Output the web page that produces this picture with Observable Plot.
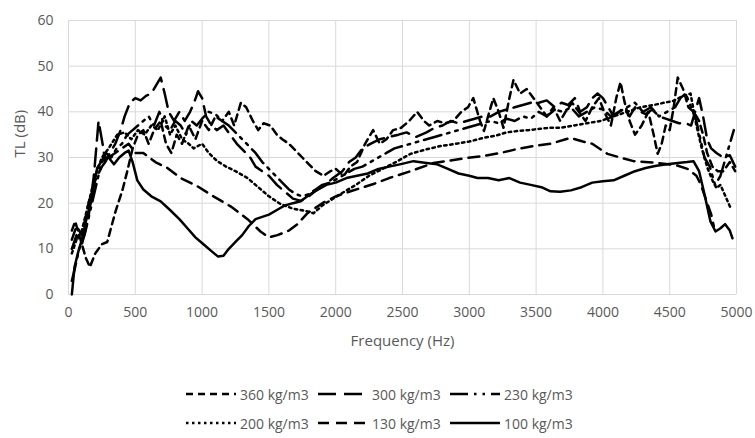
<!DOCTYPE html>
<html>
<head>
<meta charset="utf-8">
<script src="https://cdn.jsdelivr.net/npm/d3@7"></script>
<script src="https://cdn.jsdelivr.net/npm/@observablehq/plot@0.6"></script>
<style>
  html, body { margin: 0; padding: 0; background: #fff; }
  #wrap { position: relative; width: 755px; height: 438px; font-family: "Open Sans", sans-serif; }
  #legend { position: absolute; left: 0; top: 0; width: 755px; height: 438px; pointer-events: none; }
  .item { position: absolute; display: flex; align-items: center; height: 20px; font-size: 14px; color: #595959; white-space: nowrap; }
  .item svg { margin-right: 4px; }
</style>
</head>
<body>
<div id="wrap"><div id="chart"></div><div id="legend"></div></div>
<script>
// Tick values
const xTicks = [0, 500, 1000, 1500, 2000, 2500, 3000, 3500, 4000, 4500, 5000];
const yTicks = [0, 10, 20, 30, 40, 50, 60];
const xTitle = "Frequency (Hz)";
const yTitle = "TL (dB)";

// Series names
const seriesNames = ["360 kg/m3", "300 kg/m3", "230 kg/m3", "200 kg/m3", "130 kg/m3", "100 kg/m3"];

// [frequency Hz, TL dB]
const s360 = [[25,14],[50,16],[90,12],[130,8],[160,6],[200,9],[250,11],[290,11.5],[350,18],[405,23],[440,27],[480,32],[520,35],[560,36],[600,33],[640,36],[690,38],[730,33],[770,31],[810,35],[850,33],[900,37],[950,34],[1000,38],[1050,36],[1100,39],[1150,38],[1200,40],[1240,37],[1290,42],[1330,41],[1380,38],[1420,36],[1460,37.5],[1510,37],[1560,35],[1600,34],[1650,33],[1700,31.5],[1750,30],[1800,28.5],[1850,27],[1910,26],[1960,27],[2000,27.5],[2060,26],[2110,28],[2160,29],[2220,33],[2280,36],[2330,33],[2380,34],[2430,36],[2490,36.5],[2550,38],[2610,40],[2660,38],[2700,37],[2760,38],[2820,37.5],[2880,38],[2940,40],[2990,41],[3030,43],[3080,38],[3110,35.8],[3150,40],[3180,43],[3220,40],[3256,36.5],[3300,43],[3331,47],[3380,44],[3430,45],[3481,43],[3530,41],[3580,39],[3630,41],[3680,38],[3720,40],[3770,42],[3820,40],[3870,38],[3920,41],[3970,43],[4010,40],[4060,37],[4100,43],[4132,46.5],[4160,42.4],[4200,38],[4240,35],[4290,37],[4340,40],[4380,35],[4410,30.8],[4440,33],[4470,37],[4500,36],[4530,41],[4560,47.5],[4600,45],[4640,41],[4680,40],[4720,38],[4750,35],[4780,31],[4820,28],[4860,27],[4900,27],[4950,29],[4990,27]];

const s300 = [[25,10],[60,13],[100,11],[150,17],[190,26],[225,38],[255,33],[275,29],[310,31],[350,33],[390,36],[420,39],[460,42],[500,43],[540,42.5],[580,43.5],[620,44],[660,46],[690,47.5],[720,44],[750,40],[790,38],[830,40],[870,38],[910,40],[940,42],[970,44.5],[1000,43],[1030,39],[1070,37],[1110,36],[1160,37],[1210,35],[1260,33],[1310,31.5],[1360,30],[1400,28],[1450,27],[1500,26],[1560,24],[1620,22.5],[1680,21],[1740,20.5],[1800,21.5],[1860,23],[1920,24],[1980,25.5],[2050,27],[2100,29],[2150,30],[2200,32],[2260,33],[2330,34],[2400,34.5],[2470,35],[2530,35.5],[2600,34.5],[2680,35.5],[2740,36.5],[2800,37],[2860,38],[2920,37.5],[2980,38],[3040,38.5],[3100,39],[3160,39],[3220,40],[3280,40.5],[3340,41],[3400,41.5],[3460,42],[3520,42],[3580,42.5],[3640,41],[3690,42],[3740,41.5],[3790,43],[3830,40],[3880,41],[3920,43],[3960,44],[4000,43],[4040,41],[4080,39],[4120,40],[4160,41],[4200,39],[4240,41],[4280,40],[4320,39.5],[4370,40.5],[4420,39],[4470,38.5],[4520,38],[4570,37.5],[4620,37.5],[4660,37],[4690,40],[4720,43],[4750,39],[4780,34],[4810,32],[4850,31],[4900,30],[4950,30.5],[4990,28]];

const s230 = [[25,3],[50,6],[80,10],[120,13],[160,18],[200,23],[240,28],[280,31],[320,30],[360,32],[400,33],[440,35],[480,36],[520,37],[560,38],[600,39],[640,37],[680,40],[720,37],[760,36],[800,38],[840,37],[880,35],[920,38],[960,37],[1000,38.5],[1050,40],[1100,39.5],[1150,38],[1200,37],[1250,35.5],[1300,34],[1350,32.5],[1400,31],[1450,29],[1500,27.5],[1550,26],[1600,24.5],[1650,23],[1700,22],[1750,21.5],[1800,22],[1850,23],[1900,24],[1960,24.5],[2020,25.5],[2080,26.5],[2140,27.5],[2200,28],[2260,29],[2320,30],[2380,31],[2440,32],[2500,32.5],[2560,33],[2620,33.5],[2680,34],[2740,34.5],[2800,35],[2860,35.5],[2920,36],[2980,36.5],[3040,37],[3100,37.5],[3160,38],[3220,37.5],[3280,38.5],[3340,38],[3400,39],[3460,38.5],[3520,40],[3580,39],[3640,40.5],[3700,40],[3760,41],[3820,39],[3880,40],[3940,41],[4000,40.5],[4060,39],[4120,40],[4180,41],[4240,42],[4300,40],[4360,41],[4420,39],[4480,40],[4540,41],[4580,43],[4620,44],[4660,41],[4700,38],[4730,34],[4760,30],[4800,28],[4840,24],[4880,26],[4920,30],[4950,33],[4980,36]];

const s200 = [[25,9],[60,12],[100,14],[150,20],[200,26],[250,30],[300,32],[365,35],[420,35.5],[470,34],[520,36],[570,35],[620,37],[670,36],[720,39],[760,35],[800,37],[850,34],[900,33],[936,32],[1000,33],[1050,31],[1113,29.2],[1180,28],[1250,27],[1340,25.5],[1420,23.5],[1500,21.5],[1587,19.8],[1680,18.8],[1789,18.2],[1834,17.8],[1900,19.5],[2036,22],[2150,24],[2250,26],[2350,27.5],[2450,29],[2560,30.8],[2680,31.8],[2784,32.5],[2900,33],[3000,33.5],[3106,34.3],[3200,34.8],[3280,35.5],[3361,35.8],[3450,36],[3530,36.3],[3608,36.5],[3683,36.5],[3780,37],[3880,37.5],[3982,38],[4080,39],[4180,40],[4281,41],[4380,41.5],[4460,42],[4528,42.4],[4600,43.5],[4656,44],[4700,37],[4740,32],[4783,27.7],[4820,25],[4850,23.3],[4880,24],[4910,22],[4955,19]];

const s130 = [[25,12],[60,15],[100,13],[150,20],[200,25],[250,28],[300,30],[350,31],[400,32],[450,33],[500,31],[560,31],[650,29],[740,27.7],[840,25.5],[965,23.7],[1085,21.5],[1213,19.3],[1340,16.5],[1437,13.8],[1500,12.5],[1564,13],[1650,14],[1714,15.4],[1789,17.8],[1900,20],[2000,21.5],[2111,22.6],[2283,24.2],[2400,25.5],[2560,27],[2732,28.8],[2850,29.3],[2986,29.9],[3100,30.3],[3234,31],[3350,31.8],[3480,32.5],[3608,33],[3757,34.3],[3850,33.5],[3920,33],[4034,30.8],[4130,30],[4229,29.2],[4409,28.8],[4550,28.3],[4633,27.5],[4700,26],[4731,24.2],[4783,19.8],[4810,17.6],[4830,15]];

const s100 = [[25,0],[45,6],[70,9],[100,12],[130,16],[165,20],[215,27.7],[265,30],[300,30],[340,28.5],[380,30],[420,31],[450,31.5],[480,29],[515,25],[560,23],[620,21.5],[690,20.4],[760,18.5],[830,16.5],[890,14.5],[950,12.5],[1010,11],[1070,9.5],[1120,8.3],[1160,8.5],[1200,10],[1250,11.5],[1300,13],[1350,15],[1400,16.5],[1450,17],[1500,17.5],[1560,18.5],[1620,19.5],[1680,20],[1737,20.4],[1811,22],[1870,23],[1930,24],[2000,24.5],[2080,25.5],[2160,26],[2240,26.5],[2320,27.5],[2400,28],[2480,28.5],[2582,29.2],[2680,28.8],[2760,28.5],[2840,27.5],[2920,26.5],[3000,26],[3061,25.5],[3140,25.5],[3220,25],[3300,25.5],[3380,24.5],[3460,24],[3540,23.5],[3608,22.6],[3680,22.5],[3760,22.8],[3840,23.5],[3920,24.5],[4000,24.8],[4080,25],[4160,26],[4240,27],[4320,27.7],[4400,28.2],[4480,28.5],[4560,28.8],[4630,29],[4678,29.2],[4720,27],[4760,22],[4805,16],[4843,13.8],[4880,14.5],[4915,15.4],[4950,14],[4970,12.3]];

const seriesData = [s360, s300, s230, s200, s130, s100];
const dashes = ["7,5", "18,8", "18,6,2.5,6,2.5,6", "2.5,3.5", "11,7", null];

const lineMarks = seriesData.map((d, i) => Plot.line(d, {
  x: p => p[0], y: p => p[1],
  stroke: "#000", strokeWidth: 2.5,
  strokeDasharray: dashes[i] || undefined,
  strokeLinejoin: "round"
}));

const chart = Plot.plot({
  width: 755,
  height: 362,
  marginLeft: 68,
  marginRight: 19,
  marginTop: 20,
  marginBottom: 68,
  style: { fontFamily: "'Open Sans', sans-serif", fontSize: "14px", color: "#595959", background: "#fff" },
  x: { domain: [0, 5000] },
  y: { domain: [0, 60] },
  marks: [
    Plot.gridX(xTicks, { stroke: "#d9d9d9", strokeOpacity: 1, strokeWidth: 1 }),
    Plot.gridY(yTicks, { stroke: "#d9d9d9", strokeOpacity: 1, strokeWidth: 1 }),
    Plot.axisX(xTicks, { tickSize: 0, tickPadding: 13, tickFormat: d => String(d), label: null, fontSize: 14 }),
    Plot.axisY(yTicks, { tickSize: 0, tickPadding: 15, tickFormat: d => String(d), label: null, fontSize: 14 }),
    Plot.text([xTitle], { frameAnchor: "bottom", dy: 51, fontSize: 15, fill: "#595959" }),
    Plot.text([yTitle], { frameAnchor: "left", dx: -48, rotate: -90, fontSize: 15, fill: "#595959" }),
    ...lineMarks
  ]
});
document.getElementById("chart").appendChild(chart);

// Legend
const legend = document.getElementById("legend");
const cols = [186, 318, 450];
const rows = [394, 423];
seriesNames.forEach((name, i) => {
  const col = cols[i % 3], row = rows[Math.floor(i / 3)];
  const el = document.createElement("div");
  el.className = "item";
  el.style.left = col + "px";
  el.style.top = (row - 10) + "px";
  const dash = dashes[i] ? ` stroke-dasharray="${dashes[i]}"` : "";
  el.innerHTML = `<svg width="50" height="10"><line x1="0" y1="5" x2="50" y2="5" stroke="#000" stroke-width="2.5"${dash}/></svg><span>${name}</span>`;
  legend.appendChild(el);
});
</script>
</body>
</html>
